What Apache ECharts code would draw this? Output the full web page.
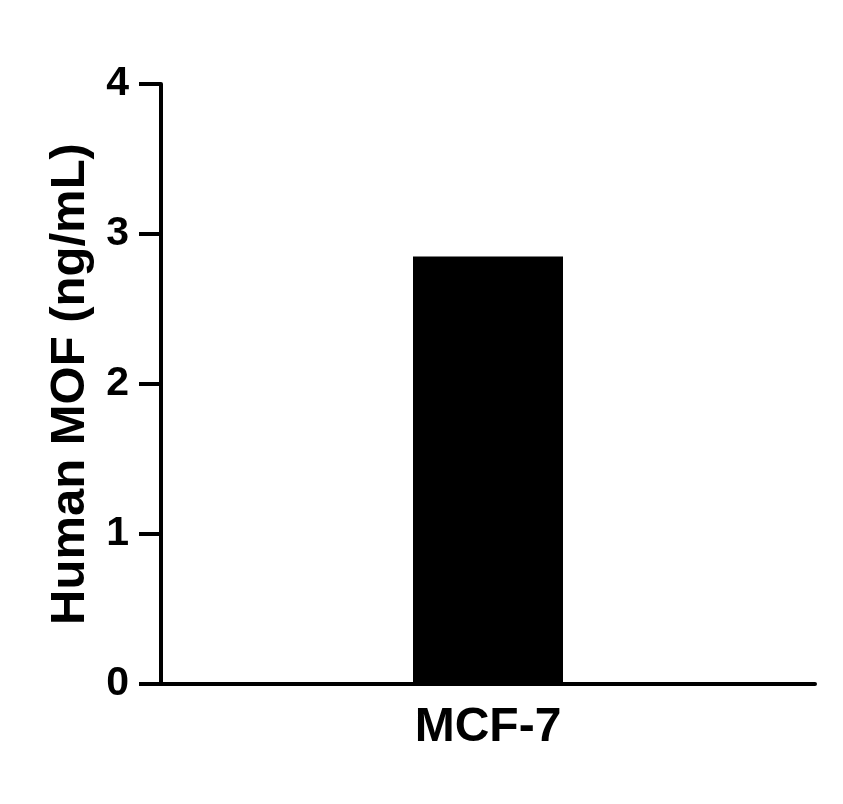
<!DOCTYPE html>
<html>
<head>
<meta charset="utf-8">
<script src="https://cdn.jsdelivr.net/npm/echarts@6/dist/echarts.min.js"></script>
<style>
html,body{margin:0;padding:0;background:#fff;}
#c{width:843px;height:804px;}
</style>
</head>
<body>
<div id="c"></div>
<script>
const categories = ['MCF-7'];
const values = [2.85];
const yTitle = 'Human MOF (ng/mL)';

const FONT = '"Liberation Sans", Arial, sans-serif';
const chart = echarts.init(document.getElementById('c'), null, {renderer: 'canvas'});
chart.setOption({
  animation: false,
  backgroundColor: '#ffffff',
  grid: {left: 161, right: 28, top: 84, bottom: 120, containLabel: false},
  xAxis: {
    type: 'category',
    data: categories,
    axisLine: {show: true, lineStyle: {color: '#000', width: 4}},
    axisTick: {show: false},
    axisLabel: {color: '#000', fontFamily: FONT, fontWeight: 'bold', fontSize: 48, margin: 20}
  },
  yAxis: {
    type: 'value',
    min: 0, max: 4, interval: 1,
    name: yTitle,
    nameLocation: 'middle',
    nameRotate: 90,
    nameGap: 54,
    nameTextStyle: {color: '#000', fontFamily: FONT, fontWeight: 'bold', fontSize: 49},
    splitLine: {show: false},
    axisLine: {show: true, lineStyle: {color: '#000', width: 4}},
    axisTick: {show: true, length: 22, lineStyle: {color: '#000', width: 4}},
    axisLabel: {color: '#000', fontFamily: FONT, fontWeight: 'bold', fontSize: 41, margin: 32}
  },
  series: [{
    type: 'bar',
    data: values,
    barWidth: 150,
    itemStyle: {color: '#000'}
  }]
});
</script>
</body>
</html>
